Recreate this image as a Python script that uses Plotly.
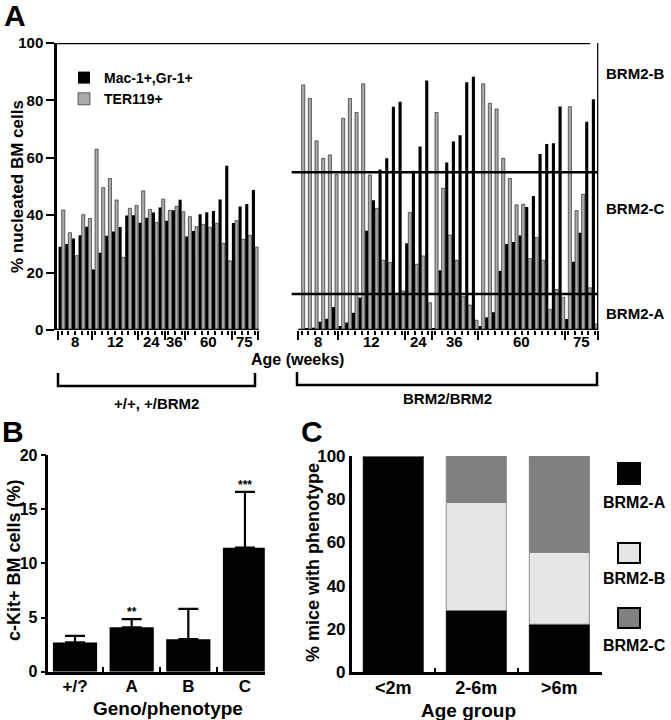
import plotly.graph_objects as go

W, H = 671, 720
FONT = "Liberation Sans, Arial, Helvetica, sans-serif"

# ---------------- Panel A data ----------------
left_mac = [29.0, 30.0, 31.9, 33.0, 36.0, 21.1, 26.9, 32.8, 34.3, 35.9, 39.9, 40.0, 37.4, 39.1, 40.9,
            42.7, 38.1, 41.7, 45.4, 32.6, 34.5, 40.3, 41.0, 41.5, 45.5, 57.2, 37.3, 43.0, 43.9, 48.8]
left_ter = [41.8, 33.9, 25.9, 40.2, 38.9, 63.0, 49.6, 52.8, 45.3, 25.3, 42.4, 43.4, 48.5, 42.0, 37.5,
            45.6, 41.7, 43.1, 41.2, 39.5, 36.0, 36.8, 35.8, 37.2, 30.2, 24.1, 38.1, 31.6, 33.0, 28.9]
right_mac = [0.3, 0.5, 0.8, 2.9, 3.9, 8.0, 1.4, 2.6, 6.0, 11.3, 34.6, 45.2, 55.9, 59.8, 77.8,
             79.5, 30.2, 55.5, 63.9, 86.9, 0.5, 20.8, 58.4, 65.7, 67.9, 86.3, 88.2, 1.4, 4.4, 6.2,
             20.6, 30.0, 30.7, 32.9, 42.9, 46.7, 61.3, 64.8, 65.1, 77.9, 3.8, 23.8, 33.9, 72.6, 80.4]
right_ter = [85.4, 80.7, 65.9, 59.8, 61.0, 54.2, 73.8, 80.7, 75.8, 85.8, 54.0, 42.4, 24.3, 23.5, 12.4,
             13.6, 41.0, 22.9, 25.8, 9.5, 75.8, 49.4, 33.1, 24.3, 11.6, 8.7, 3.4, 85.8, 79.0, 77.0,
             59.8, 52.8, 43.6, 43.8, 24.9, 32.2, 24.3, 7.2, 14.1, 11.4, 77.8, 41.6, 47.3, 14.7, 2.1]
age_labels = ["8", "12", "24", "36", "60", "75"]
left_group_sizes = [5, 7, 4, 3, 7, 4]
right_group_sizes = [6, 10, 4, 7, 13, 5]
phenotype_cutoffs = [12.5, 55]
zone_labels = ["BRM2-B", "BRM2-C", "BRM2-A"]
zone_label_values = [89.5, 42.5, 5.9]

# ---------------- Panel B data ----------------
geno = ["+/?", "A", "B", "C"]
ckit_mean = [2.7, 4.1, 3.0, 11.45]
ckit_err = [0.6, 0.75, 2.8, 5.15]
ckit_sig = ["", "**", "", "***"]

# ---------------- Panel C data ----------------
age_groups = ["<2m", "2-6m", ">6m"]
brm2_a = [100, 28.6, 22.2]
brm2_b = [0, 50.0, 33.3]
brm2_c = [0, 21.4, 44.5]
pheno_names = ["BRM2-A", "BRM2-B", "BRM2-C"]
pheno_colors = ["#000000", "#e6e6e6", "#808080"]


def px(x):
    return x / W


def py(y):
    return 1 - y / H


def bfont(size):
    return dict(family=FONT, size=size, color="black", weight="bold")


GAP_SLOTS = 6
n_left = len(left_mac)
left_x = list(range(n_left))
right_start = n_left + GAP_SLOTS
right_x = [right_start + i for i in range(len(right_mac))]
xs = left_x + right_x

fig = go.Figure()
fig.add_trace(go.Bar(x=xs, y=left_mac + right_mac, name="Mac-1+,Gr-1+", offsetgroup="mac",
                     marker=dict(color="black", line=dict(width=0)), xaxis="x", yaxis="y"))
fig.add_trace(go.Bar(x=xs, y=left_ter + right_ter, name="TER119+", offsetgroup="ter",
                     marker=dict(color="#ababab", line=dict(color="#111111", width=0.6)),
                     xaxis="x", yaxis="y"))

# Panel B
fig.add_trace(go.Bar(x=geno, y=ckit_mean, width=0.78, marker=dict(color="black", line=dict(width=0)),
                     error_y=dict(type="data", array=ckit_err, arrayminus=[0] * len(ckit_err),
                                  symmetric=False, color="black", thickness=2.2, width=10),
                     xaxis="x2", yaxis="y2", showlegend=False, offsetgroup="b"))

# Panel C stacked via base
base_b = brm2_a
base_c = [a + b for a, b in zip(brm2_a, brm2_b)]
for vals, base, col, nm in zip([brm2_a, brm2_b, brm2_c], [None, base_b, base_c], pheno_colors, pheno_names):
    fig.add_trace(go.Bar(x=age_groups, y=vals, base=base, width=0.723, name=nm,
                         marker=dict(color=col, line=dict(color="#777777" if col != "#000000" else "black",
                                                          width=0.8)),
                         xaxis="x3", yaxis="y3", showlegend=False, offsetgroup="c"))


def boundaries(start, sizes):
    b = [start - 0.5]
    for s in sizes:
        b.append(b[-1] + s)
    return b


lb = boundaries(0, left_group_sizes)
rb = boundaries(right_start, right_group_sizes)
major_ticks = lb + rb

annotations = []
shapes = []

for bnds in (lb, rb):
    for i, lab in enumerate(age_labels):
        annotations.append(dict(text=lab, x=(bnds[i] + bnds[i + 1]) / 2, y=py(341), xref="x", yref="paper",
                                showarrow=False, font=bfont(15), xanchor="center", yanchor="middle"))

x_lo, x_hi = -0.7, rb[-1]
LW = 2.5
shapes.append(dict(type="line", xref="x", yref="y", x0=x_lo, x1=lb[-1], y0=0, y1=0,
                   line=dict(color="black", width=LW)))
shapes.append(dict(type="line", xref="x", yref="y", x0=rb[0], x1=rb[-1], y0=0, y1=0,
                   line=dict(color="black", width=LW)))
shapes.append(dict(type="line", xref="x", yref="y", x0=x_lo, x1=rb[-1] - 1.2, y0=100, y1=100,
                   line=dict(color="black", width=LW)))
shapes.append(dict(type="line", xref="x", yref="y", x0=rb[-1], x1=rb[-1], y0=0, y1=100,
                   line=dict(color="black", width=LW)))
for c in phenotype_cutoffs:
    shapes.append(dict(type="line", xref="x", yref="y", x0=rb[0] - 1.0, x1=rb[-1], y0=c, y1=c,
                       line=dict(color="black", width=LW)))

for lab, v in zip(zone_labels, zone_label_values):
    annotations.append(dict(text=lab, x=px(604), y=v, xref="paper", yref="y", showarrow=False,
                            font=bfont(15), xanchor="left", yanchor="middle"))


def bracket(x0, x1, yline, ytop):
    return dict(type="path", xref="paper", yref="paper",
                path=f"M {px(x0)},{py(ytop)} L {px(x0)},{py(yline)} L {px(x1)},{py(yline)} L {px(x1)},{py(ytop)}",
                line=dict(color="black", width=LW))


shapes.append(bracket(58, 255, 386, 373))
shapes.append(bracket(297, 597, 385, 372))
annotations.append(dict(text="+/+, +/BRM2", x=px(156), y=py(403), font=bfont(15)))
annotations.append(dict(text="BRM2/BRM2", x=px(447), y=py(398), font=bfont(15)))

annotations += [
    dict(text="A", x=px(2), y=py(15), xanchor="left", font=bfont(30)),
    dict(text="B", x=px(0), y=py(431), xanchor="left", font=bfont(30)),
    dict(text="C", x=px(299), y=py(431), xanchor="left", font=bfont(30)),
    dict(text="% nucleated BM cells", x=px(18), y=py(187), textangle=-90, font=bfont(17)),
    dict(text="Age (weeks)", x=px(297), y=py(359), font=bfont(16)),
    dict(text="c-Kit+ BM cells (%)", x=px(14), y=py(560), textangle=-90, font=bfont(18)),
    dict(text="Geno/phenotype", x=px(168), y=py(708), font=bfont(19)),
    dict(text="% mice with phenotype", x=px(313), y=py(563), textangle=-90, font=bfont(18)),
    dict(text="Age group", x=px(468), y=py(710), font=bfont(19)),
]

for g, m, e, s in zip(geno, ckit_mean, ckit_err, ckit_sig):
    if s:
        annotations.append(dict(text=s, x=g, y=m + e, xref="x2", yref="y2", showarrow=False,
                                font=bfont(12), yanchor="bottom", yshift=-2))

leg_y = [(463, 484, 502), (543, 563, 578), (608, 628, 645)]
for (y0, y1, yt), col, nm in zip(leg_y, pheno_colors, pheno_names):
    shapes.append(dict(type="rect", xref="paper", yref="paper", x0=px(618), x1=px(640), y0=py(y1), y1=py(y0),
                       fillcolor=col, line=dict(color="black", width=2)))
    annotations.append(dict(text=nm, x=px(634), y=py(yt), font=bfont(16)))

for a in annotations:
    a.setdefault("xref", "paper")
    a.setdefault("yref", "paper")
    a.setdefault("showarrow", False)
    a.setdefault("yanchor", "middle")
    a.setdefault("xanchor", "center")

fig.update_layout(
    width=W, height=H, margin=dict(l=0, r=0, t=0, b=0, pad=0, autoexpand=False),
    paper_bgcolor="white", plot_bgcolor="rgba(0,0,0,0)",
    barmode="group", bargap=0.06, bargroupgap=0,
    showlegend=True,
    legend=dict(x=px(64), y=py(62), xanchor="left", yanchor="top", font=bfont(14),
                bgcolor="rgba(0,0,0,0)", traceorder="normal", itemwidth=30, tracegroupgap=0),
    xaxis=dict(domain=[px(57), px(598.3)], range=[x_lo, rb[-1]], showgrid=False, zeroline=False,
               showline=False, tickmode="array", tickvals=major_ticks, ticks="outside", ticklen=9,
               tickwidth=2, tickcolor="black", showticklabels=False,
               minor=dict(tickmode="array", tickvals=xs, ticks="outside", ticklen=4, tickwidth=2,
                          tickcolor="black", showgrid=False),
               anchor="y"),
    yaxis=dict(domain=[py(330), py(43)], range=[0, 100], showgrid=False, zeroline=False, showline=True,
               linewidth=LW, linecolor="black", ticks="outside", ticklen=8, tickwidth=2, tickcolor="black",
               tickvals=[0, 20, 40, 60, 80, 100], tickfont=bfont(15), anchor="x"),
    xaxis2=dict(domain=[px(48.4), px(264.8)], range=[-0.47, 3.35], type="category", showgrid=False,
                zeroline=False, showline=True, linewidth=LW, linecolor="black", ticks="inside",
                tickson="boundaries", ticklen=5, tickwidth=2, tickcolor="black", tickfont=bfont(17),
                ticklabelstandoff=-3, anchor="y2"),
    yaxis2=dict(domain=[py(671.7), py(455)], range=[0, 20], showgrid=False, zeroline=False, showline=True,
                linewidth=LW, linecolor="black", ticks="outside", ticklen=5, tickwidth=2, tickcolor="black",
                tickvals=[0, 5, 10, 15, 20], tickfont=bfont(16), anchor="x2"),
    xaxis3=dict(domain=[px(351.7), px(601.7)], range=[-0.5, 2.51], type="category", showgrid=False,
                zeroline=False, showline=True, linewidth=LW, linecolor="black", ticks="inside",
                tickson="boundaries", ticklen=5, tickwidth=2, tickcolor="black", tickfont=bfont(18),
                ticklabelstandoff=-3, anchor="y3"),
    yaxis3=dict(domain=[py(672.3), py(456)], range=[0, 100], showgrid=False, zeroline=False, showline=True,
                linewidth=LW, linecolor="black", ticks="", tickvals=[0, 20, 40, 60, 80, 100],
                tickfont=bfont(17), anchor="x3"),
    annotations=annotations, shapes=shapes,
)

fig.write_html("out.html", config={"displayModeBar": False},
               post_script="document.body.style.margin='0';document.body.style.padding='0';")
